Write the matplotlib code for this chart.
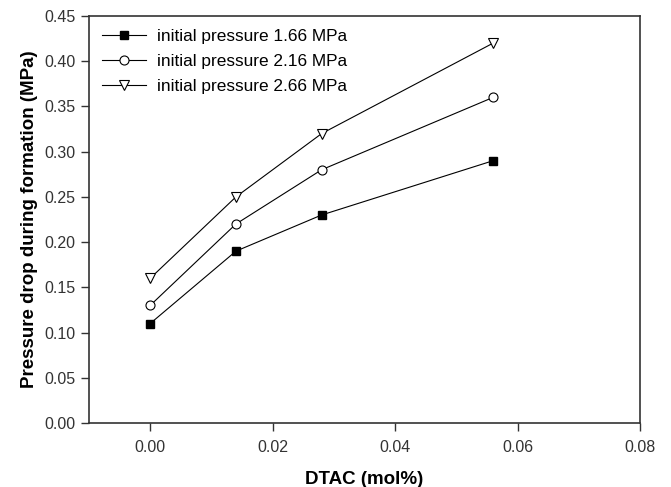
import matplotlib
matplotlib.use('Agg')
import matplotlib.pyplot as plt

plt.rcParams['font.family'] = ['Liberation Sans', 'DejaVu Sans']

dtac = [0.0, 0.014, 0.028, 0.056]
p166 = [0.11, 0.19, 0.23, 0.29]
p216 = [0.13, 0.22, 0.28, 0.36]
p266 = [0.16, 0.25, 0.32, 0.42]
labels = ['initial pressure 1.66 MPa', 'initial pressure 2.16 MPa', 'initial pressure 2.66 MPa']

fig = plt.figure(figsize=(6.71, 4.87), dpi=100)
ax = fig.add_axes([0.1326, 0.1314, 0.8212, 0.8357])

ax.plot(dtac, p166, color='black', lw=0.8, marker='s', ms=6,
        mfc='black', mec='black', label=labels[0])
ax.plot(dtac, p216, color='black', lw=0.8, marker='o', ms=6.5,
        mfc='white', mec='black', mew=0.8, label=labels[1])
ax.plot(dtac, p266, color='black', lw=0.8, marker='v', ms=7.5,
        mfc='white', mec='black', mew=0.8, label=labels[2])

ax.set_xlim(-0.01, 0.08)
ax.set_ylim(0, 0.45)
ax.set_xticks([0.0, 0.02, 0.04, 0.06, 0.08])
ax.set_yticks([0.0, 0.05, 0.1, 0.15, 0.2, 0.25, 0.3, 0.35, 0.4, 0.45])
ax.xaxis.set_major_formatter(matplotlib.ticker.FormatStrFormatter('%.2f'))
ax.yaxis.set_major_formatter(matplotlib.ticker.FormatStrFormatter('%.2f'))
ax.tick_params(direction='out', length=5.5, width=1, pad=4, labelsize=11.5,
               color='#333333', labelcolor='#333333')
ax.tick_params(axis='x', pad=7)
for s in ax.spines.values():
    s.set_linewidth(1.2)
    s.set_color('#333333')

ax.set_xlabel('DTAC (mol%)', fontsize=13.5, fontweight='bold', labelpad=11)
ax.set_ylabel('Pressure drop during formation (MPa)', fontsize=13.5, fontweight='bold', labelpad=5)

ax.legend(loc='upper left', frameon=False, fontsize=12.4, handlelength=2.55,
          handletextpad=0.64, labelspacing=0.56, borderaxespad=0.37)

fig.savefig('out.png', dpi=100)
